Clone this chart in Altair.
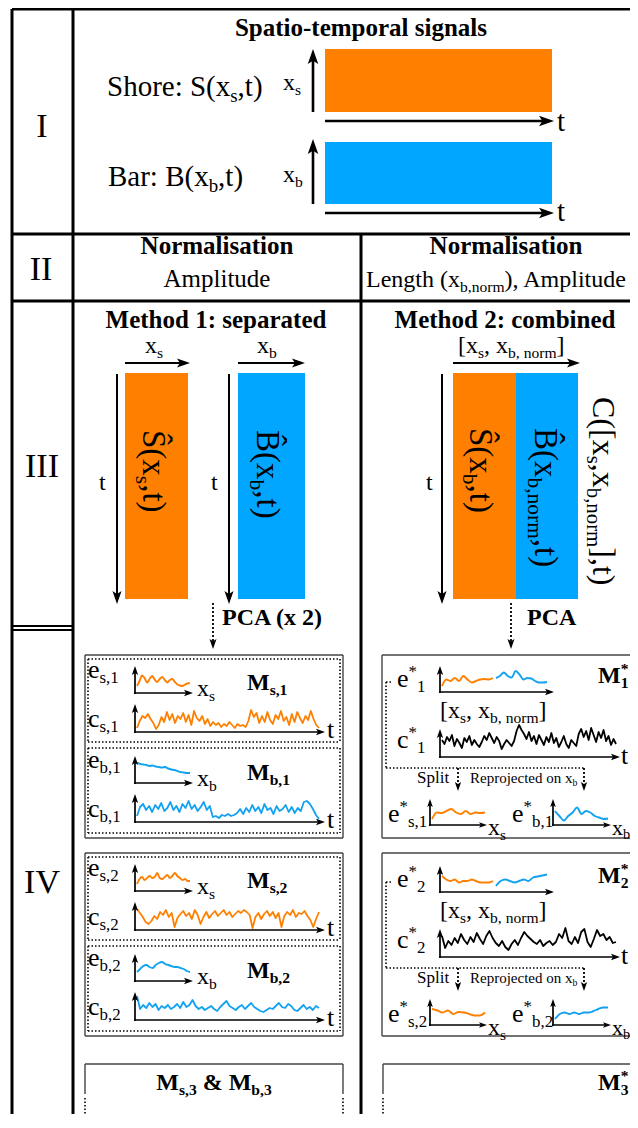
import math
import altair as alt
import pandas as pd

# ---------------- colours ----------------
ORANGE = "#FF8000"
BLUE = "#00A6FF"
SIG_BLUE = "#12A2F0"

# ---------------- signal amplitudes (px above their axis) ----------------
E_S1 = [6, 11, 16.5, 14, 9.5, 13, 16, 12.5, 10, 13, 15, 12, 9.5, 12, 13, 10, 7.5, 6.5, 6, 7.5, 8.5, 9]
C_S1 = [3, 10, 15, 13, 17, 12, 8, 2,
        6, 14, 9, 19, 11, 17, 8, 15, 12, 18,
        9, 16, 6, 20, 13, 10, 15, 7, 12, 5, 9, 6,
        8, 4, 7, 5, 9, 6, 3, 7, 5, 6, 4,
        10, 21, 14, 18, 8,
        15, 9, 19, 11, 7, 16, 12, 20, 10, 14, 6, 17, 9, 19, 13, 8, 15, 11,
        20, 12, 6, 3]
E_B1 = [19.3, 18, 17.5, 17, 16, 16.5, 15.5, 15, 14.5, 15, 13.5, 12.5, 12, 11, 10, 9.5, 9, 9]
C_B1 = [5, 14, 17, 11, 15, 9, 16, 12, 18, 10, 13, 19, 11, 15, 9, 17, 13, 20, 12, 16, 10, 14, 19, 11, 15,
        4, 5, 3, 6, 5, 7, 5, 6,
        8, 12, 7, 13, 9, 16, 10, 14, 8, 17, 11, 13, 7, 15, 10, 12, 16, 9, 14, 8, 13, 10, 19, 20,
        17, 12, 6, 2]
E_S2 = [6, 11, 13, 10, 12, 14, 12, 13, 17, 12, 11, 13, 15, 12, 14, 17, 14, 12, 10, 11, 9, 9]
C_S2 = [20, 16, 12, 7, 5, 8, 13, 10, 17, 14, 19, 12, 16, 2, 11, 15, 18, 13, 16, 10, 19, 14, 5, 12, 17,
        11, 15, 18, 13, 16, 19, 14, 17, 12, 15, 18, 16, 19, 17, 14, 1, 12, 16, 10, 15, 18, 13, 17, 11,
        16, 2, 13, 17, 14, 19, 12, 16, 15, 18, 13, 9, 2, 10, 17]
E_B2 = [8, 11, 14, 15, 13, 12, 15, 17, 18, 16, 15, 14, 13, 13, 12, 11, 9, 8]
C_B2 = [23, 10, 14, 11, 16, 12, 15, 9, 13, 11, 14, 10, 12, 15, 11, 17, 12, 14, 19, 13, 10, 12, 9, 11,
        13, 10, 8, 12, 15, 18, 13, 11, 9, 12, 14, 10, 13, 16, 12, 10, 8, 7, 9, 11, 10, 13, 16, 12, 11,
        15, 13, 9, 8, 11, 14, 10, 12, 9, 13, 11]

E1_OR = [5, 11.5, 10, 13, 10, 15, 11.5, 8.5, 10, 11.5, 12, 11.5, 13]
E1_BL = [13, 15, 18.5, 15, 13.5, 20, 16.5, 11.5, 13, 12.5, 10, 8.5, 8.5, 9]
C1_BK = [16, 12, 19, 15, 21, 10, 17, 13, 8, 18, 14, 20, 11, 16, 12,
         9, 14, 20, 16, 23, 18, 13, 19, 15,
         7, 12, 16, 13, 10, 15,
         25, 31, 26, 22,
         17, 24, 15, 20, 12, 21, 16, 11, 19, 14, 23, 13,
         18, 9, 14, 20, 12, 8, 16, 13, 10,
         22, 27, 19, 25, 16, 28, 21, 14, 24, 18, 26, 15, 20, 11, 17, 12]
ES1_OR = [5, 11.5, 11, 13, 15, 11.5, 10, 13, 10, 11.5, 11, 11.5]
EB1_BL = [13, 8, 3.5, 8, 11.5, 16.5, 10, 13, 11.5, 8, 6.5, 5, 5.5]

E2_OR = [15, 11.5, 10, 11.5, 8.5, 10, 10, 11.5, 10, 8.5, 8.5, 8.5, 10]
E2_BL = [5, 10, 11.5, 10, 8.5, 10, 11.5, 10, 13.5, 14.5, 15.5, 16.5]
C2_BK = [20, 8, 15, 11, 18, 13, 22, 16, 12, 19, 14, 23, 17, 12, 20, 25, 18, 13, 10, 15, 9, 6, 12, 16,
         11, 18, 24, 20, 17, 14, 12, 16, 10, 13, 15, 11, 14, 22, 18, 28, 15, 12, 19, 13, 24, 27, 14,
         9, 17, 26, 20, 22, 16, 19, 13, 14]
ES2_OR = [15, 13.5, 11.5, 13.5, 10, 12, 11.5, 10, 8.5, 8.5, 11.5]
EB2_BL = [5, 10, 11.5, 10, 11.5, 10, 11.5, 11.5, 13, 15, 16.5, 16.5]

# ---------------- Times (Liberation Serif) advance widths ----------------
REG = {' ': 250, '(': 333, ')': 333, '*': 500, ',': 250, '-': 333, '.': 250, ':': 278, '[': 333, ']': 333,
       '&': 778, 'A': 722, 'B': 667, 'C': 667, 'I': 333, 'L': 611, 'M': 889, 'N': 722, 'R': 667,
       'S': 556, 'V': 722, 'a': 444, 'b': 500, 'c': 444, 'd': 500, 'e': 444, 'g': 500, 'h': 500,
       'i': 278, 'j': 278, 'l': 278, 'm': 778, 'n': 500, 'o': 500, 'p': 500, 'r': 333, 's': 389,
       't': 278, 'u': 500, 'x': 500, '\u015c': 556, '\u0302': 0}
BOLD = {' ': 250, '(': 333, ')': 333, '*': 500, ',': 250, '-': 333, ':': 333, '&': 833, 'A': 722,
        'C': 722, 'M': 944, 'N': 722, 'P': 611, 'S': 556, 'a': 500, 'b': 556, 'c': 444, 'd': 556,
        'e': 444, 'g': 500, 'h': 556, 'i': 278, 'l': 278, 'm': 833, 'n': 556, 'o': 500, 'p': 556,
        'r': 444, 's': 389, 't': 333, 'x': 500}


def tw(s, size, bold):
    tab = BOLD if bold else REG
    return sum(tab.get(c, 500) for c in s) * size / 1000.0


texts = []


def rich(x, y, segs, size, bold=False, angle=0, color="black", anchor="left"):
    pieces, adv = [], 0.0
    for txt, mode in segs:
        if mode == "n":
            s, d, step = size, 0.0, True
        elif mode == "b":
            s, d, step = size * 0.65, size * 0.2, True
        elif mode == "p":
            s, d, step = size * 0.65, -size * 0.38, True
        else:
            s, d, step = size * 0.65, -size * 0.38, False
        lead = len(txt) - len(txt.lstrip(" "))
        pieces.append((txt.strip(" "), s, adv + tw(" " * lead, s, bold), d))
        if step:
            adv += tw(txt, s, bold)
    shift = {"left": 0.0, "center": adv / 2.0, "right": adv}[anchor]
    for txt, s, a, d in pieces:
        a -= shift
        if angle == 90:
            px, py = x - d, y + a
        else:
            px, py = x + a, y + d
        texts.append(dict(x=px, y=py, text=txt, size=s, angle=angle, color=color, bold=bold))


lines = []
heads = []


def seg(x1, y1, x2, y2, style):
    lines.append(dict(x=x1, y=y1, x2=x2, y2=y2, style=style))


def arrow(x1, y1, x2, y2, style, L):
    dx, dy = x2 - x1, y2 - y1
    n = math.hypot(dx, dy)
    ux, uy = dx / n, dy / n
    seg(x1, y1, x2 - ux * L * 0.6, y2 - uy * L * 0.6, style)
    ang = math.degrees(math.atan2(uy, ux)) % 360
    heads.append(dict(x=x2 - ux * L / 2, y=y2 - uy * L / 2, size=L * L, angle=ang))


rects = []


def rect(x1, y1, x2, y2, color):
    rects.append(dict(x=x1, y=y1, x2=x2, y2=y2, color=color))


sigs = []


def sig(name, vals, x0, x1, base, color, kind):
    n = len(vals)
    for i, v in enumerate(vals):
        sigs.append(dict(sid=name, i=i, x=x0 + i * (x1 - x0) / (n - 1), y=base - v, color=color, kind=kind))


# ---------------- table frame ----------------
seg(12, 9, 638, 9, "frame")
seg(12, 9, 12, 1128, "frame")
seg(73, 9, 73, 1128, "frame")
seg(12, 234, 638, 234, "frame")
seg(12, 301, 638, 301, "frame")
seg(361, 234, 361, 1128, "frame")
seg(12, 626, 73, 626, "frame2")
seg(12, 630, 73, 630, "frame2")

# roman numerals
rich(42, 137, [("I", "n")], 34, anchor="center")
rich(41, 280, [("II", "n")], 34, anchor="center")
rich(42, 477, [("III", "n")], 34, anchor="center")
rich(42, 893, [("IV", "n")], 34, anchor="center")

# ---------------- section I ----------------
rich(361, 36, [("Spatio-temporal signals", "n")], 25, bold=True, anchor="center")
rich(107, 96, [("Shore: S(x", "n"), ("s", "b"), (",t)", "n")], 29)
rich(108, 186, [("Bar: B(x", "n"), ("b", "b"), (",t)", "n")], 29)
rich(283, 90, [("x", "n"), ("s", "b")], 24)
rich(283, 182, [("x", "n"), ("b", "b")], 24)
rect(325, 49, 552, 112, ORANGE)
rect(325, 142, 552, 204, BLUE)
arrow(313, 112, 313, 49, "big", 15)
arrow(313, 204, 313, 139, "big", 15)
arrow(325, 121, 554, 121, "big", 15)
arrow(325, 213, 554, 213, "big", 15)
rich(557, 131, [("t", "n")], 29)
rich(557, 221, [("t", "n")], 29)

# ---------------- section II ----------------
rich(217, 254, [("Normalisation", "n")], 25, bold=True, anchor="center")
rich(217, 287, [("Amplitude", "n")], 25, anchor="center")
rich(506, 254, [("Normalisation", "n")], 25, bold=True, anchor="center")
rich(366, 287, [("Length (x", "n"), ("b,norm", "b"), ("), Amplitude", "n")], 24)

# ---------------- section III ----------------
rich(216, 328, [("Method 1: separated", "n")], 25, bold=True, anchor="center")
rich(505, 328, [("Method 2: combined", "n")], 25, bold=True, anchor="center")
rich(145, 353, [("x", "n"), ("s", "b")], 24)
rich(257, 353, [("x", "n"), ("b", "b")], 24)
rich(458, 353, [("[x", "n"), ("s", "b"), (", x", "n"), ("b, norm", "b"), ("]", "n")], 24)
arrow(125, 363, 190, 363, "mid", 13)
arrow(238, 363, 305, 363, "mid", 13)
arrow(453, 363, 580, 363, "mid", 13)
rect(125, 373, 188, 599, ORANGE)
rect(238, 373, 305, 599, BLUE)
rect(453, 373, 516, 599, ORANGE)
rect(516, 373, 578, 599, BLUE)
arrow(117, 374, 117, 604, "mid", 13)
arrow(229, 374, 229, 604, "mid", 13)
arrow(442, 374, 442, 604, "mid", 13)
rich(99, 490, [("t", "n")], 24)
rich(211, 490, [("t", "n")], 24)
rich(426, 490, [("t", "n")], 24)
rich(143, 430, [("\u015c(x", "n"), ("s", "b"), (",t)", "n")], 33, angle=90)
rich(257, 430, [("B\u0302(x", "n"), ("b", "b"), (",t)", "n")], 33, angle=90)
rich(470, 428, [("\u015c(x", "n"), ("b", "b"), (",t)", "n")], 33, angle=90)
rich(535, 428, [("B\u0302(x", "n"), ("b,norm", "b"), (",t)", "n")], 33, angle=90)
rich(593, 397, [("C([x", "n"), ("s", "b"), (",x", "n"), ("b,norm", "b"), ("],t)", "n")], 32, angle=90)
arrow(213, 603, 213, 649, "dotarrow", 10)
arrow(511, 603, 511, 649, "dotarrow", 10)
rich(222, 625, [("PCA (x 2)", "n")], 24, bold=True)
rich(527, 625, [("PCA", "n")], 24, bold=True)

# ---------------- section IV, method 1 ----------------
for yo in (0, 198):
    seg(85, 655 + yo, 343, 655 + yo, "box")
    seg(85, 838 + yo, 343, 838 + yo, "box")
    seg(85, 655 + yo, 85, 838 + yo, "box")
    seg(343, 655 + yo, 343, 838 + yo, "box")
    for (ya, yb) in ((659, 742), (748, 833)):
        seg(88, ya + yo, 340, ya + yo, "dot")
        seg(88, yb + yo, 340, yb + yo, "dot")
        seg(88, ya + yo, 88, yb + yo, "dot")
        seg(340, ya + yo, 340, yb + yo, "dot")

panels = [("s", "1", E_S1, C_S1, ORANGE, 0), ("b", "1", E_B1, C_B1, SIG_BLUE, 90),
          ("s", "2", E_S2, C_S2, ORANGE, 198), ("b", "2", E_B2, C_B2, SIG_BLUE, 288)]
for k, m, ev, cv, col, b in panels:
    rich(88, 678 + b, [("e", "n"), (f"{k},{m}", "b")], 26)
    arrow(135, 694 + b, 135, 666 + b, "axis", 9)
    arrow(134, 693 + b, 193, 693 + b, "axis", 9)
    rich(197, 696 + b, [("x", "n"), (k, "b")], 24)
    rich(247, 690 + b, [("M", "n"), (f"{k},{m}", "b")], 24, bold=True)
    rich(88, 727 + b, [("c", "n"), (f"{k},{m}", "b")], 26)
    arrow(135, 733 + b, 135, 704 + b, "axis", 9)
    arrow(134, 732 + b, 325, 732 + b, "axis", 9)
    rich(327, 738 + b, [("t", "n")], 26)
    sig(f"m1_e_{k}{m}", ev, 137, 190, 692 + b, col, "e")
    sig(f"m1_c_{k}{m}", cv, 137, 319, 731 + b, col, "c")

seg(85, 1064, 343, 1064, "box")
seg(85, 1064, 85, 1094, "box")
seg(343, 1064, 343, 1094, "box")
seg(85, 1098, 85, 1122, "dot")
seg(343, 1098, 343, 1122, "dot")
rich(214, 1090, [("M", "n"), ("s,3", "b"), (" & M", "n"), ("b,3", "b")], 24, bold=True, anchor="center")

# ---------------- section IV, method 2 ----------------
m2 = [("1", 0, 0, E1_OR, E1_BL, C1_BK, ES1_OR, EB1_BL),
      ("2", 200, 198, E2_OR, E2_BL, C2_BK, ES2_OR, EB2_BL)]
for m, o, bo, eor, ebl, cbk, esor, ebbl in m2:
    seg(382, 655 + bo, 640, 655 + bo, "box")
    seg(382, 838 + bo, 640, 838 + bo, "box")
    seg(382, 655 + bo, 382, 838 + bo, "box")
    seg(386, 682 + o, 393, 682 + o, "dot")
    seg(386, 682 + o, 386, 768 + o, "dot")
    seg(386, 768 + o, 585, 768 + o, "dot")
    arrow(458, 768 + o, 458, 791 + o, "dotarrow", 9)
    arrow(584, 768 + o, 584, 791 + o, "dotarrow", 9)
    rich(397, 687 + o, [("e", "n"), ("*", "p"), (m, "b")], 26)
    arrow(440, 693 + o, 440, 666 + o, "axis", 9)
    arrow(439, 692 + o, 554, 692 + o, "axis", 9)
    rich(440, 718 + o, [("[x", "n"), ("s", "b"), (", x", "n"), ("b, norm", "b"), ("]", "n")], 24)
    rich(598, 683 + o, [("M", "n"), ("*", "P"), (m, "b")], 24, bold=True)
    rich(397, 748 + o, [("c", "n"), ("*", "p"), (m, "b")], 26)
    arrow(440, 758 + o, 440, 729 + o, "axis", 9)
    arrow(439, 757 + o, 620, 757 + o, "axis", 9)
    rich(621, 764 + o, [("t", "n")], 26)
    rich(417, 783 + o, [("Split", "n")], 17)
    rich(470, 783 + o, [("Reprojected on x", "n"), ("b", "b")], 15)
    rich(388, 822 + o, [("e", "n"), ("*", "p"), (f"s,{m}", "b")], 26)
    arrow(430, 826 + o, 430, 799 + o, "axis", 8)
    arrow(429, 825 + o, 487, 825 + o, "axis", 8)
    rich(488, 835 + o, [("x", "n"), ("s", "b")], 24)
    rich(512, 822 + o, [("e", "n"), ("*", "p"), (f"b,{m}", "b")], 26)
    arrow(553, 826 + o, 553, 799 + o, "axis", 8)
    arrow(552, 825 + o, 611, 825 + o, "axis", 8)
    rich(612, 835 + o, [("x", "n"), ("b", "b")], 22)
    sig(f"m2_eo_{m}", eor, 442, 493, 691 + o, ORANGE, "e")
    sig(f"m2_eb_{m}", ebl, 496, 547, 691 + o, SIG_BLUE, "e")
    sig(f"m2_c_{m}", cbk, 442, 616, 756 + o, "black", "c")
    sig(f"m2_eso_{m}", esor, 432, 485, 824 + o, ORANGE, "e")
    sig(f"m2_ebb_{m}", ebbl, 555, 608, 824 + o, SIG_BLUE, "e")

seg(383, 1064, 640, 1064, "box")
seg(383, 1064, 383, 1094, "box")
seg(383, 1098, 383, 1122, "dot")
rich(598, 1090, [("M", "n"), ("*", "P"), ("3", "b")], 24, bold=True)

# ---------------- build chart ----------------
# reference pixel frame: page margin is 8px, so the visible plot shows x 8..630, y 8..1114
XS = alt.Scale(domain=[8, 630], nice=False, zero=False)
YS = alt.Scale(domain=[8, 1114], nice=False, zero=False, reverse=True)


def X():
    return alt.X("x:Q", scale=XS, axis=None)


def Y():
    return alt.Y("y:Q", scale=YS, axis=None)


STYLES = {
    "frame": dict(strokeWidth=3, color="black"),
    "frame2": dict(strokeWidth=2, color="black"),
    "big": dict(strokeWidth=2.6, color="black"),
    "mid": dict(strokeWidth=2, color="black"),
    "axis": dict(strokeWidth=1.7, color="black"),
    "box": dict(strokeWidth=1.4, color="#444444"),
    "dot": dict(strokeWidth=1.6, color="black", strokeDash=[1.5, 2]),
    "dotarrow": dict(strokeWidth=1.8, color="black", strokeDash=[2, 2]),
}

ldf = pd.DataFrame(lines)
layers = []
layers.append(
    alt.Chart(pd.DataFrame(rects)).mark_rect().encode(
        x=X(), x2=alt.X2("x2:Q"), y=Y(), y2=alt.Y2("y2:Q"), color=alt.Color("color:N", scale=None)
    )
)
for st, props in STYLES.items():
    sub = ldf[ldf["style"] == st]
    if len(sub) == 0:
        continue
    layers.append(
        alt.Chart(sub).mark_rule(**props).encode(x=X(), y=Y(), x2=alt.X2("x2:Q"), y2=alt.Y2("y2:Q"))
    )

sdf = pd.DataFrame(sigs)
layers.append(
    alt.Chart(sdf[sdf["kind"] == "c"]).mark_line(strokeWidth=1.8, strokeJoin="round").encode(
        x=X(), y=Y(), detail="sid:N", order="i:Q", color=alt.Color("color:N", scale=None)
    )
)
layers.append(
    alt.Chart(sdf[sdf["kind"] == "e"]).mark_line(strokeWidth=1.9, interpolate="monotone").encode(
        x=X(), y=Y(), detail="sid:N", order="i:Q", color=alt.Color("color:N", scale=None)
    )
)

HEAD = "M1,0L-1,-0.7L-0.55,0L-1,0.7Z"
layers.append(
    alt.Chart(pd.DataFrame(heads)).mark_point(shape=HEAD, filled=True, opacity=1, color="black", strokeWidth=0).encode(
        x=X(), y=Y(), size=alt.Size("size:Q", scale=None), angle=alt.Angle("angle:Q", scale=None)
    )
)

tdf = pd.DataFrame(texts)
for b in (False, True):
    sub = tdf[tdf["bold"] == b].drop(columns=["bold"])
    layers.append(
        alt.Chart(sub).mark_text(
            font="Liberation Serif", align="left", baseline="alphabetic",
            fontWeight="bold" if b else "normal"
        ).encode(
            x=X(), y=Y(), text="text:N",
            size=alt.Size("size:Q", scale=None),
            angle=alt.Angle("angle:Q", scale=None),
            color=alt.Color("color:N", scale=None),
        )
    )

chart = alt.layer(*layers).properties(
    width=622, height=1106, padding=0, autosize=alt.AutoSizeParams(type="none")
).configure_view(stroke=None)

chart.save("out.html", embed_options={"renderer": "svg", "actions": False})
